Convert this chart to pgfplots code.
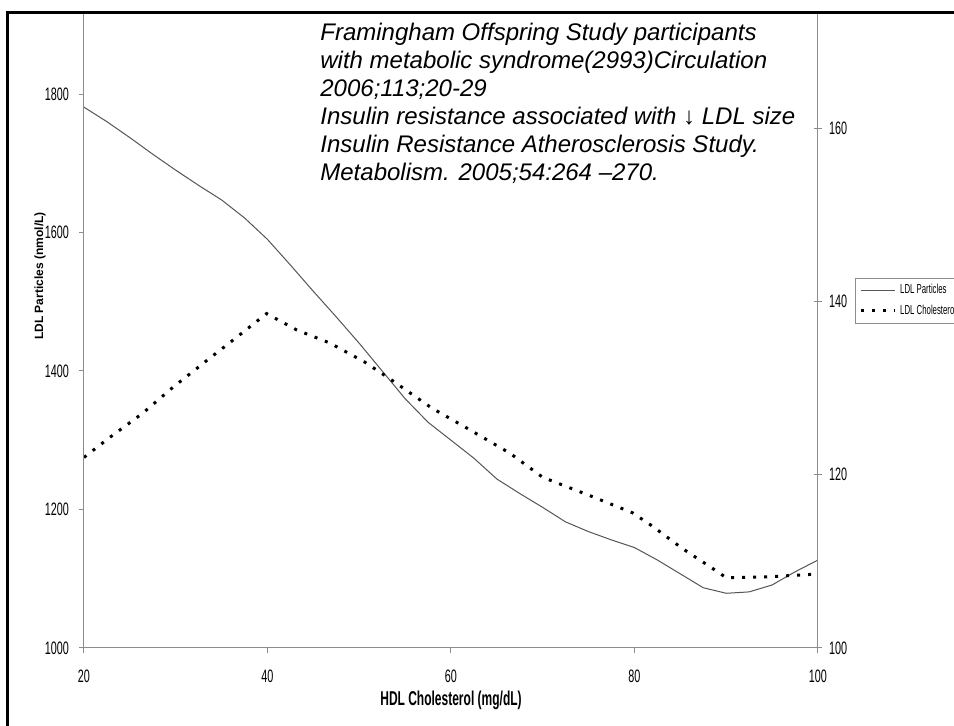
\documentclass[border=0pt]{standalone}
\usepackage{fontspec}
\setmainfont{Liberation Sans}
\newfontfamily\narrowfont[FakeStretch=0.6]{Liberation Sans}
\usepackage{pgfplots}
\pgfplotsset{compat=1.18}

\definecolor{axisgray}{RGB}{140,140,140}
\definecolor{curvegray}{RGB}{85,85,85}

\pgfplotsset{
  base/.style={
    scale only axis, width=367pt, height=317.5pt,
    at={(42pt,39pt)}, anchor=south west,
    xmin=20, xmax=100,
    axis line style={axisgray, line width=0.5pt},
    tick style={axisgray, line width=0.5pt},
    major tick length=2.5pt,
    ticklabel style={font=\narrowfont\fontsize{9}{9}\selectfont},
    /pgf/number format/assume math mode=true,
    /pgf/number format/1000 sep={},
  },
}

\begin{document}
\begin{tikzpicture}
\clip (0,0) rectangle (477pt,363pt);
\fill[white] (0,0) rectangle (477pt,363pt);

% LDL particles, left axis
\begin{axis}[base,
  ymin=1000, ymax=1917,
  axis x line*=bottom, axis y line*=left,
  tick align=outside,
  xtick={20,40,60,80,100},
  ytick={1000,1200,1400,1600,1800},
  xticklabel style={yshift=-5pt},
  yticklabel style={xshift=-1.5pt},
]
\addplot[curvegray, line width=0.5pt] coordinates {
(20,1781)(22.5,1760)(25,1737)(27.5,1713)(30,1690)(32.5,1668)(35,1647)
(37.5,1621)(40,1590)(42.5,1553)(45,1515)(47.5,1478)(50,1440)(52.5,1400)
(55,1360)(57.5,1326)(60,1300)(62.5,1274)(65,1244)(67.5,1223)(70,1203)
(72.5,1182)(75,1168)(77.5,1156)(80,1145)(82.5,1127)(85,1107)(87.5,1087)
(90,1079)(92.5,1081)(95,1091)(97.5,1110)(100,1127)};
\end{axis}

% LDL cholesterol, right axis
\begin{axis}[base,
  ymin=100, ymax=173.3,
  axis x line=none, axis y line*=right,
  tick align=center, major tick length=4pt,
  ytick={100,120,140,160},
  legend style={at={(1.05,0.583)}, anchor=north west, draw=axisgray,
    font=\narrowfont\fontsize{6.5}{6.5}\selectfont,
    inner xsep=2pt, inner ysep=1pt, row sep=0pt},
  legend cell align=left,
]
\addlegendimage{curvegray, line width=0.5pt}
\addlegendentry{LDL Particles}
\addplot[black, line width=1.5pt, dash pattern=on 1.5pt off 4pt] coordinates {
(20,122.0)(22.8,124.3)(26.4,127.1)(29.7,130.1)(33.4,133.2)(36.2,135.5)
(39.9,138.6)(43.2,136.7)(46.8,135.2)(50.6,133.0)(53.3,131.1)(57.9,127.7)
(61.7,125.4)(66.4,122.5)(70.0,119.7)(75.1,117.6)(79.8,115.6)(81.9,114.1)
(85.2,111.5)(89.2,108.7)(90.0,108.1)(94.3,108.2)(99.3,108.5)};
\addlegendentry{LDL Cholesterol}
\end{axis}

% axis titles
\node[rotate=90, font=\bfseries\fontsize{6}{6}\selectfont] at (20pt,225pt) {LDL Particles (nmol/L)};
\node[font=\narrowfont\bfseries\fontsize{10}{10}\selectfont] at (225.5pt,13pt) {HDL Cholesterol (mg/dL)};

% slide text
\begin{scope}[every node/.style={anchor=base west, inner sep=0pt, font=\itshape\fontsize{12}{14}\selectfont}]
\node at (160pt,342.5pt) {Framingham Offspring Study participants};
\node at (160pt,328.5pt) {with metabolic syndrome(2993)Circulation};
\node at (160pt,314.5pt) {2006;113;20-29};
\node at (160pt,300.5pt) {Insulin resistance associated with ↓ LDL size};
\node at (160pt,286.5pt) {Insulin Resistance Atherosclerosis Study.};
\node at (160pt,272.5pt) {Metabolism. 2005;54:264 –270.};
\end{scope}

% slide frame
\draw[black, line width=1.5pt] (3.5pt,-20pt) -- (3.5pt,356.5pt) -- (520pt,356.5pt);
\end{tikzpicture}
\end{document}
